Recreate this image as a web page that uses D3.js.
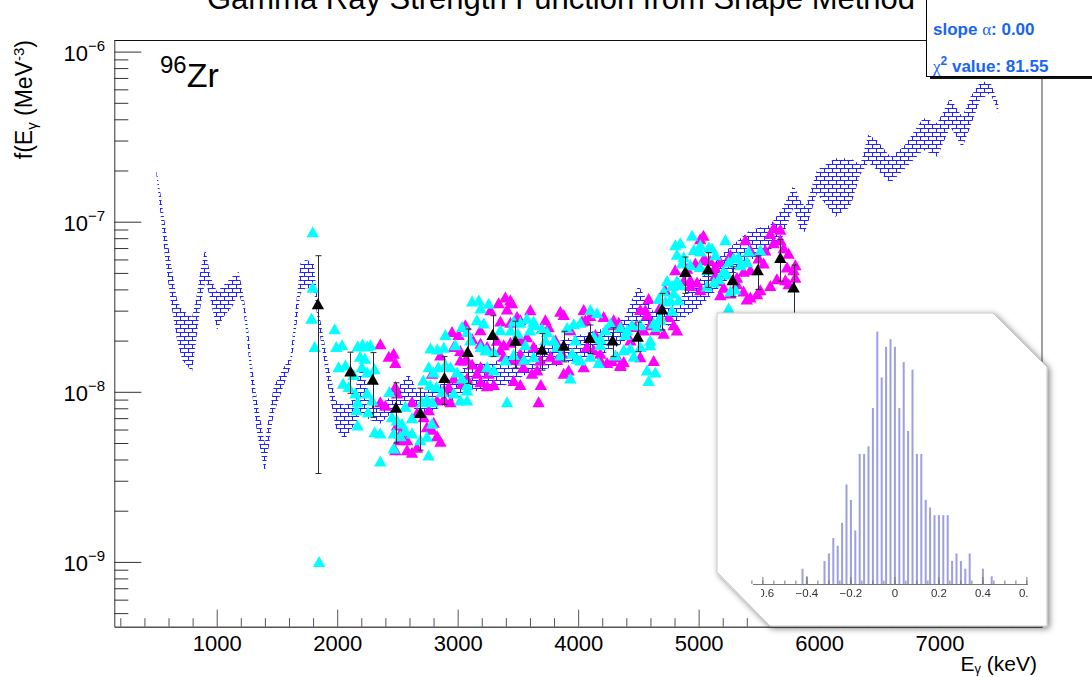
<!DOCTYPE html>
<html>
<head>
<meta charset="utf-8">
<script src="https://cdn.jsdelivr.net/npm/d3@7"></script>
<style>
  html, body { margin: 0; padding: 0; background: #fff; }
  svg { display: block; font-family: "Liberation Sans", Arial, Helvetica, sans-serif; }
</style>
</head>
<body>
<svg id="chart" width="1092" height="677"></svg>
<script>
// ---------------- data ----------------
const xDomain = [150, 7850];            // E_gamma (keV)
const yDomain = [4.16e-10, 1.17e-6];    // f(E_gamma) (MeV^-3)
const xMajorTicks = [1000, 2000, 3000, 4000, 5000, 6000, 7000];
const xTickLabels = ["1000", "2000", "3000", "4000", "5000", "6000", "7000"];
const yDecades = [-9, -8, -7, -6];
const yTickLabels = ["\u22129", "\u22128", "\u22127", "\u22126"];

// uncertainty band from the shape method (upper / lower edge)
const bandE  = [500, 533, 574, 616, 671, 713, 796, 837, 865, 906,
                948, 1003, 1058, 1128, 1183, 1219, 1252, 1294, 1335, 1399,
                1432, 1473, 1542, 1612, 1639, 1695, 1736, 1805, 1846, 1880,
                1930, 1990, 2060, 2130, 2200, 2275, 2358, 2441, 2594, 2663,
                2760, 2880, 3000, 3100, 3250, 3400, 3600, 3800, 4000, 4200,
                4380, 4500, 4620, 4800, 5000, 5200, 5429, 5595, 5700, 5788,
                5844, 5885, 5982, 6134, 6259, 6342, 6408, 6483, 6591, 6699,
                6865, 6981, 7089, 7188, 7255, 7338, 7421, 7487];
const bandHi = [2.03e-7, 1.47e-7, 9.35e-8, 5.96e-8, 3.46e-8, 3.03e-8, 2.76e-8, 3.79e-8, 5.2e-8, 6.97e-8,
                4.75e-8, 3.87e-8, 4.24e-8, 4.75e-8, 5.08e-8, 3.79e-8, 2.64e-8, 1.40e-8, 8.93e-9, 4.97e-9,
                7.13e-9, 1.07e-8, 1.34e-8, 1.61e-8, 2.41e-8, 5.69e-8, 5.96e-8, 5.82e-8, 3.0e-8, 2.2e-8,
                1.4e-8, 8.9e-9, 8.4e-9, 9.0e-9, 1.45e-8, 9.4e-9, 8.2e-9, 9.4e-9, 1.28e-8, 1.02e-8,
                1.05e-8, 1.12e-8, 1.3e-8, 1.48e-8, 1.45e-8, 1.6e-8, 1.85e-8, 1.95e-8, 2.15e-8, 2.35e-8,
                2.7e-8, 4.24e-8, 3.0e-8, 3.3e-8, 4.5e-8, 6.5e-8, 8.93e-8, 9.57e-8, 1.22e-7, 1.64e-7,
                1.34e-7, 1.22e-7, 2.01e-7, 2.36e-7, 2.36e-7, 2.16e-7, 3.24e-7, 3.0e-7, 2.41e-7, 2.75e-7,
                4.07e-7, 3.81e-7, 5.35e-7, 4.13e-7, 5.4e-7, 6.64e-7, 6.64e-7, 4.99e-7];
const bandLo = [1.88e-7, 1.12e-7, 5.96e-8, 3.46e-8, 2.01e-8, 1.54e-8, 1.31e-8, 2.20e-8, 3.16e-8, 4.54e-8,
                3.46e-8, 2.31e-8, 2.76e-8, 3.16e-8, 3.79e-8, 3.16e-8, 2.01e-8, 9.79e-9, 5.69e-9, 3.38e-9,
                4.75e-9, 7.46e-9, 1.02e-8, 1.40e-8, 1.84e-8, 3.79e-8, 4.06e-8, 4.06e-8, 2.4e-8, 1.7e-8,
                1.0e-8, 6.0e-9, 5.2e-9, 6.2e-9, 7.5e-9, 6.8e-9, 6.5e-9, 7.4e-9, 8.9e-9, 7.5e-9,
                7.6e-9, 8.2e-9, 9.2e-9, 1.0e-8, 1.02e-8, 1.1e-8, 1.3e-8, 1.4e-8, 1.55e-8, 1.65e-8,
                1.95e-8, 2.64e-8, 2.3e-8, 2.5e-8, 3.1e-8, 4.3e-8, 5.96e-8, 6.83e-8, 8.2e-8, 1.22e-7,
                8.73e-8, 8.73e-8, 1.47e-7, 1.07e-7, 1.22e-7, 1.9e-7, 2.21e-7, 2.01e-7, 1.69e-7, 2.01e-7,
                2.64e-7, 2.41e-7, 3.61e-7, 2.72e-7, 3.61e-7, 5.2e-7, 5.72e-7, 4.35e-7];

// individual strength-function points, [E keV, f]
const cyanPoints = [
  [1797, 8.7e-8], [1797, 4.1e-8], [1786, 2.7e-8], [1813, 1.84e-8], [1850, 1.0e-9],
  [1979, 2.34e-8], [1993, 1.84e-8], [2040, 1.88e-8], [2012, 1.40e-8], [2068, 1.43e-8],
  [2049, 1.12e-8], [2096, 1.07e-8], [2151, 9.8e-9], [2170, 8.7e-9], [2160, 7.8e-9],
  [2170, 6.35e-9], [2170, 1.85e-8], [2210, 1.9e-8], [2250, 1.85e-8], [2275, 1.88e-8],
  [2190, 1.61e-8], [2230, 1.57e-8], [2205, 1.40e-8], [2250, 1.30e-8], [2310, 1.36e-8],
  [2137, 1.26e-8], [2248, 9.8e-9], [2290, 8.9e-9], [2256, 7.6e-9], [2311, 5.8e-9],
  [2358, 5.7e-9], [2358, 3.9e-9], [2433, 1.0e-8], [2455, 7.1e-9], [2496, 6.8e-9],
  [2538, 6.5e-9], [2470, 5.7e-9], [2525, 5.5e-9], [2566, 5.9e-9], [2469, 4.65e-9],
  [2566, 8.2e-9], [2621, 7.0e-9], [2621, 5.7e-9], [2690, 5.2e-9], [2745, 5.45e-9],
  [2759, 4.23e-9], [2705, 8.7e-9], [2745, 9.0e-9], [2790, 8.7e-9], [2775, 1.8e-8],
  [2830, 1.78e-8], [2885, 1.82e-8], [2760, 1.4e-8], [2800, 1.3e-8], [2840, 1.4e-8],
  [2715, 1.17e-8], [2770, 1.1e-8], [2825, 1.07e-8], [2870, 1.0e-8], [2787, 6.5e-9],
  [2940, 1.4e-8], [2995, 1.3e-8], [3036, 1.2e-8], [3078, 1.1e-8], [2967, 9.8e-9],
  [3022, 8.9e-9], [3078, 1.02e-8], [3078, 8.9e-9], [3036, 2.41e-8], [3078, 2.25e-8],
  [3120, 3.4e-8], [3175, 3.45e-8], [3190, 3.1e-8], [3257, 3.3e-8], [3160, 2.64e-8],
  [3216, 2.53e-8], [3190, 1.84e-8], [3244, 1.76e-8], [3300, 1.72e-8], [3244, 1.4e-8],
  [3300, 1.34e-8], [3410, 8.7e-9], [3465, 2.6e-8], [3520, 2.55e-8], [3575, 2.7e-8],
  [3630, 2.6e-8], [3440, 2.3e-8], [3500, 2.2e-8], [3600, 2.3e-8], [3465, 1.65e-8],
  [3550, 1.55e-8], [3630, 1.6e-8], [3700, 2.35e-8], [3742, 2.25e-8], [3797, 2.0e-8],
  [3825, 1.84e-8], [3908, 2.38e-8], [3963, 2.5e-8], [4018, 2.55e-8], [3950, 1.68e-8],
  [3991, 1.57e-8], [3935, 1.2e-8], [4101, 3.03e-8], [4157, 2.9e-8], [4129, 2.11e-8],
  [4184, 2.05e-8], [4101, 1.61e-8], [4170, 1.48e-8], [4226, 2.31e-8], [4267, 2.53e-8],
  [4350, 2.4e-8], [4406, 2.3e-8], [4447, 2.47e-8], [4378, 1.76e-8], [4433, 1.8e-8],
  [4461, 1.61e-8], [4572, 1.34e-8], [4641, 1.3e-8], [4585, 1.16e-8], [4516, 1.84e-8],
  [4598, 2.0e-8], [4627, 2.53e-8], [4655, 2.41e-8], [4682, 2.76e-8], [4668, 3.52e-8],
  [4710, 3.9e-8], [4738, 4.5e-8], [4779, 4.2e-8], [4820, 4.5e-8], [4724, 3.4e-8],
  [4779, 3.0e-8], [4793, 3.8e-8], [4834, 3.46e-8], [4807, 7.3e-8], [4848, 7.5e-8],
  [4820, 6.4e-8], [4876, 6.2e-8], [4862, 5.7e-8], [4945, 8.3e-8], [4960, 6.83e-8],
  [5013, 6.7e-8], [5013, 5.43e-8], [5070, 5.2e-8], [5085, 7.1e-8], [5112, 6.97e-8],
  [5070, 4.17e-8], [5126, 4.4e-8], [5166, 4.6e-8], [5204, 5.1e-8], [5235, 4.9e-8],
  [5249, 5.8e-8], [5290, 6.1e-8], [5330, 6.2e-8], [5263, 3.9e-8], [5304, 4.0e-8],
  [5249, 3.1e-8], [5415, 6.7e-8], [5402, 5.8e-8],
  [2898, 2.16e-8], [2981, 1.88e-8], [3105, 2.01e-8], [3230, 1.76e-8], [3354, 2.31e-8],
  [3396, 1.53e-8], [3562, 1.88e-8], [3645, 2.47e-8], [3728, 2.01e-8], [3853, 1.64e-8],
  [3977, 2.01e-8], [4018, 1.53e-8], [4184, 1.88e-8], [4309, 1.64e-8], [4392, 2.16e-8],
  [4516, 2.47e-8], [4598, 1.88e-8], [4682, 2.64e-8], [4765, 3.46e-8], [4848, 4.24e-8],
  [4931, 5.56e-8], [5014, 7.3e-8], [5139, 6.37e-8], [5222, 7.8e-8], [5347, 5.56e-8],
  [5512, 6.8e-8], [2898, 1.44e-8]
];
const magentaPoints = [
  [2358, 1.91e-8], [2428, 1.61e-8], [2469, 1.68e-8], [2483, 1.48e-8], [2358, 8.7e-9],
  [2400, 8.3e-9], [2483, 1.07e-8], [2497, 9.8e-9], [2497, 6.35e-9], [2525, 5.7e-9],
  [2511, 5.2e-9], [2483, 4.54e-9], [2580, 4.54e-9], [2621, 4.4e-9], [2663, 4.7e-9],
  [2580, 5.2e-9], [2621, 8.7e-9], [2663, 7.5e-9], [2718, 7.1e-9], [2760, 7.8e-9],
  [2745, 6.2e-9], [2787, 6.0e-9], [2801, 6.6e-9], [2829, 5.5e-9], [2857, 5.1e-9],
  [2787, 1.28e-8], [2829, 8.9e-9], [2885, 9.1e-9], [2940, 8.7e-9], [2885, 1.02e-8],
  [2926, 1.07e-8], [2953, 2.25e-8], [3008, 2.16e-8], [2967, 1.84e-8], [3022, 1.74e-8],
  [3063, 1.53e-8], [3078, 1.54e-8], [3120, 1.45e-8], [3190, 1.4e-8], [3257, 1.28e-8],
  [2967, 1.2e-8], [3036, 1.12e-8], [3078, 1.2e-8], [3160, 1.28e-8], [3190, 1.14e-8],
  [3244, 1.08e-8], [3300, 1.1e-8], [3120, 2.05e-8], [3190, 1.92e-8], [3244, 1.84e-8],
  [3340, 3.33e-8], [3395, 3.6e-8], [3450, 3.33e-8], [3410, 3.05e-8], [3355, 2.6e-8],
  [3438, 2.55e-8], [3493, 2.76e-8], [3327, 2.0e-8], [3382, 1.88e-8], [3438, 1.95e-8],
  [3382, 1.61e-8], [3465, 1.55e-8], [3520, 1.68e-8], [3520, 2.0e-8], [3575, 2.1e-8],
  [3630, 1.84e-8], [3545, 1.4e-8], [3617, 1.28e-8], [3660, 1.34e-8], [3465, 1.16e-8],
  [3520, 1.1e-8], [3672, 8.7e-9], [3690, 1.1e-8], [3700, 2.35e-8], [3755, 2.4e-8],
  [3770, 1.61e-8], [3825, 1.55e-8], [3866, 1.68e-8], [3880, 1.28e-8], [3921, 1.34e-8],
  [3852, 2.96e-8], [3880, 2.84e-8], [4046, 3.03e-8], [4101, 2.8e-8], [4032, 2.6e-8],
  [4073, 1.84e-8], [4129, 1.76e-8], [4046, 1.4e-8], [4184, 1.68e-8], [4240, 1.48e-8],
  [4281, 1.52e-8], [4212, 2.76e-8], [4295, 2.64e-8], [4337, 2.55e-8], [4323, 1.6e-8],
  [4378, 1.5e-8], [4350, 1.42e-8], [4516, 3.03e-8], [4572, 2.84e-8], [4585, 3.52e-8],
  [4475, 2.41e-8], [4544, 2.3e-8], [4600, 2.47e-8], [4516, 1.6e-8], [4627, 1.52e-8],
  [4682, 3.16e-8], [4751, 2.76e-8], [4793, 2.47e-8], [4710, 2.2e-8], [4820, 2.3e-8],
  [4876, 4.5e-8], [4931, 4.2e-8], [4987, 4.4e-8], [4904, 5.3e-8], [5040, 8.3e-8],
  [5013, 7.9e-8], [4973, 5.7e-8], [5040, 6.0e-8], [5096, 5.9e-8], [5138, 5.4e-8],
  [5180, 5.8e-8], [5152, 4.5e-8], [5208, 4.1e-8], [5263, 3.8e-8], [5318, 4.3e-8],
  [5373, 3.9e-8], [5430, 3.6e-8], [5485, 3.75e-8], [5429, 6.8e-8], [5498, 6.1e-8],
  [5540, 5.7e-8], [5595, 8.5e-8], [5623, 9.2e-8], [5678, 9.0e-8], [5623, 7.5e-8],
  [5706, 7.0e-8], [5747, 6.5e-8], [5733, 5.4e-8], [5788, 5.2e-8], [5802, 4.7e-8],
  [5747, 4.3e-8], [5650, 4.6e-8], [5595, 4.2e-8], [5318, 4.7e-8], [5373, 5.1e-8],
  [5180, 3.7e-8], [5400, 3.5e-8],
  [3064, 2.47e-8], [3189, 2.31e-8], [3272, 3.02e-8], [3437, 3.46e-8], [3520, 2.64e-8],
  [3603, 3.02e-8], [3728, 2.64e-8], [3811, 2.01e-8], [3935, 2.31e-8], [4060, 2.64e-8],
  [4143, 2.16e-8], [4268, 2.47e-8], [4434, 2.01e-8], [4557, 3.02e-8], [4640, 2.31e-8],
  [4723, 3.96e-8], [4806, 5.2e-8], [4931, 4.54e-8], [5056, 5.96e-8], [5139, 4.86e-8],
  [5263, 6.37e-8], [5388, 7.8e-8], [5429, 5.2e-8], [5553, 6.8e-8], [5678, 7.8e-8],
  [5803, 5.56e-8], [5720, 4.54e-8], [5512, 3.96e-8], [5014, 3.96e-8], [2856, 1.64e-8],
  [3022, 1.53e-8], [3354, 1.76e-8], [3520, 1.53e-8], [3686, 1.53e-8], [4184, 1.53e-8],
  [4351, 1.44e-8]
];

// averaged points with their error bars
const avgE  = [1840, 2110, 2295, 2488, 2690, 2890, 3083, 3290, 3479, 3700, 3880,
               4095, 4286, 4494, 4696, 4890, 5078, 5282, 5490, 5678, 5788];
const avgF  = [3.28e-8, 1.32e-8, 1.18e-8, 8.09e-9, 7.52e-9, 1.21e-8, 1.72e-8, 2.16e-8, 2.0e-8, 1.77e-8, 1.87e-8,
               2.08e-8, 2.01e-8, 2.11e-8, 3.05e-8, 5.08e-8, 5.27e-8, 4.54e-8, 5.2e-8, 6.14e-8, 4.11e-8];
const avgHi = [6.31e-8, 1.71e-8, 1.70e-8, 1.13e-8, 1.05e-8, 1.61e-8, 2.34e-8, 2.8e-8, 2.6e-8, 2.2e-8, 2.27e-8,
               2.47e-8, 2.38e-8, 2.57e-8, 3.79e-8, 6.2e-8, 6.58e-8, 5.43e-8, 6.3e-8, 7.87e-8, 5.56e-8];
const avgLo = [3.31e-9, 9.8e-9, 7.08e-9, 5.0e-9, 4.54e-9, 8.44e-9, 1.12e-8, 1.61e-8, 1.38e-8, 1.34e-8, 1.5e-8,
               1.68e-8, 1.61e-8, 1.72e-8, 2.31e-8, 3.79e-8, 4.11e-8, 3.62e-8, 4.0e-8, 4.47e-8, 1.5e-8];

// slope distribution (inset histogram)
const histDomain = [-0.645, 0.605];
const histBins   = [-0.42, -0.40, -0.32, -0.30, -0.28, -0.26, -0.24, -0.22, -0.20, -0.18,
                    -0.16, -0.14, -0.12, -0.10, -0.08, -0.06, -0.04, -0.02, 0.00, 0.02,
                    0.04, 0.06, 0.08, 0.10, 0.12, 0.14, 0.16, 0.18, 0.20, 0.22,
                    0.24, 0.26, 0.28, 0.30, 0.32, 0.34, 0.40, 0.44];
const histCounts = [2, 1, 3, 4, 6, 5, 8, 13, 11, 7,
                    17, 17, 18, 23, 33, 27, 31, 32, 31, 23,
                    29, 20, 28, 17, 17, 11, 10, 9, 9, 9,
                    9, 3, 4, 3, 2, 4, 2, 1];
const histTicks  = [-0.6, -0.4, -0.2, 0, 0.2, 0.4, 0.6];
const histTickLabels = ["\u22120.6", "\u22120.4", "\u22120.2", "0", "0.2", "0.4", "0.6"];

const titleText = "Gamma Ray Strength Function from Shape Method";
const slopeText = ": 0.00";
const chi2Text = " value: 81.55";

// ---------------- layout ----------------
const svg = d3.select("#chart");
const frame = { left: 114.3, right: 1042, top: 40, bottom: 626.7 };
const fontMain = '"Liberation Sans", Arial, Helvetica, sans-serif';

const x = d3.scaleLinear().domain(xDomain).range([frame.left, frame.right]);
const y = d3.scaleLog().domain(yDomain).range([frame.bottom, frame.top]);

const defs = svg.append("defs");

// brick hatch used for the band
const pat = defs.append("pattern")
  .attr("id", "bricks").attr("patternUnits", "userSpaceOnUse")
  .attr("width", 8).attr("height", 8);
pat.append("path")
  .attr("d", "M0,0.5H8M0,4.5H8M0.5,0.5V4.5M4.5,4.5V8")
  .attr("stroke", "#2323ff").attr("stroke-width", 1).attr("fill", "none")
  .attr("shape-rendering", "crispEdges");

const shadow = defs.append("filter").attr("id", "panelShadow")
  .attr("x", "-10%").attr("y", "-10%").attr("width", "125%").attr("height", "125%");
shadow.append("feDropShadow").attr("dx", 2).attr("dy", 2)
  .attr("stdDeviation", 3).attr("flood-color", "#000").attr("flood-opacity", 0.5);

const soft = defs.append("filter").attr("id", "soft");
soft.append("feGaussianBlur").attr("stdDeviation", 0.35);

// ---------------- title ----------------
svg.append("text")
  .attr("x", 561).attr("y", 9)
  .attr("text-anchor", "middle").attr("font-size", 31).attr("fill", "#000")
  .text(titleText);

// ---------------- frame ----------------
svg.append("line").attr("x1", frame.left).attr("x2", frame.right)
  .attr("y1", frame.top + 0.5).attr("y2", frame.top + 0.5)
  .attr("stroke", "#111").attr("stroke-width", 1);
svg.append("line").attr("x1", frame.right).attr("x2", frame.right)
  .attr("y1", frame.top).attr("y2", frame.bottom)
  .attr("stroke", "#8a8a8a").attr("stroke-width", 1.6);

// ---------------- band ----------------
const bandData = bandE.map((e, i) => ({ e, hi: bandHi[i], lo: bandLo[i] }));
const area = d3.area().x(d => x(d.e)).y0(d => y(d.lo)).y1(d => y(d.hi));
svg.append("path").datum(bandData)
  .attr("d", area).attr("fill", "url(#bricks)").attr("stroke", "none");

// ---------------- markers ----------------
const tri = "M0,-5.8L6.2,5.2L-6.2,5.2Z";
const pointsLayer = svg.append("g");
pointsLayer.selectAll("path.mag").data(magentaPoints).join("path")
  .attr("class", "mag").attr("d", tri)
  .attr("transform", d => `translate(${x(d[0])},${y(d[1])})`)
  .attr("fill", "#ff00ff");
pointsLayer.selectAll("path.cyan").data(cyanPoints).join("path")
  .attr("class", "cyan").attr("d", tri)
  .attr("transform", d => `translate(${x(d[0])},${y(d[1])})`)
  .attr("fill", "#00ffff");

const avgData = avgE.map((e, i) => ({ e, f: avgF[i], hi: avgHi[i], lo: avgLo[i] }));
const errG = svg.append("g").attr("stroke", "#2a2a2a").attr("stroke-width", 1);
avgData.forEach(d => {
  const cx = Math.round(x(d.e)) + 0.5;
  errG.append("line").attr("x1", cx).attr("x2", cx).attr("y1", y(d.hi)).attr("y2", y(d.lo));
  errG.append("line").attr("x1", cx - 3).attr("x2", cx + 3).attr("y1", y(d.hi)).attr("y2", y(d.hi));
  errG.append("line").attr("x1", cx - 3).attr("x2", cx + 3).attr("y1", y(d.lo)).attr("y2", y(d.lo));
});
svg.append("g").selectAll("path").data(avgData).join("path")
  .attr("d", tri)
  .attr("transform", d => `translate(${x(d.e)},${y(d.f)})`)
  .attr("fill", "#000");

// ---------------- axes ----------------
// x axis: major ticks with labels, minor ticks every 200 keV
const xMinor = d3.range(200, 7850, 200).filter(v => v % 1000 !== 0);
const xAxisG = svg.append("g").attr("transform", `translate(0,${frame.bottom})`)
  .call(d3.axisBottom(x).tickValues(xMajorTicks)
    .tickFormat((d, i) => xTickLabels[i])
    .tickSizeInner(-17).tickSizeOuter(0).tickPadding(8.4));
xAxisG.attr("font-size", 22).attr("font-family", fontMain).style("color", "#555");
xAxisG.selectAll("text").attr("fill", "#000");
xAxisG.select(".domain").attr("stroke-width", 1.6);
const xMinorG = svg.append("g").attr("transform", `translate(0,${frame.bottom})`)
  .call(d3.axisBottom(x).tickValues(xMinor).tickFormat("").tickSizeInner(-8.5).tickSizeOuter(0));
xMinorG.style("color", "#555");
xMinorG.select(".domain").remove();

// y axis: decades plus 2..9 minor ticks
const yMajor = yDecades.map(k => Math.pow(10, k));
const yMinor = [];
for (let k = -10; k <= -6; k++) {
  for (let m = 2; m <= 9; m++) {
    const v = m * Math.pow(10, k);
    if (v >= yDomain[0] && v <= yDomain[1]) yMinor.push(v);
  }
}
const yAxisG = svg.append("g").attr("transform", `translate(${frame.left},0)`)
  .call(d3.axisLeft(y).tickValues(yMajor).tickFormat("").tickSizeInner(-27).tickSizeOuter(0));
yAxisG.style("color", "#333");
const yMinorG = svg.append("g").attr("transform", `translate(${frame.left},0)`)
  .call(d3.axisLeft(y).tickValues(yMinor).tickFormat("").tickSizeInner(-14).tickSizeOuter(0));
yMinorG.style("color", "#333");
yMinorG.select(".domain").remove();

// decade labels 10^k
yMajor.forEach((v, i) => {
  const t = svg.append("text")
    .attr("x", 105).attr("y", y(v) + 9.5)
    .attr("text-anchor", "end").attr("fill", "#000");
  t.append("tspan").attr("font-size", 22).text("10");
  t.append("tspan").attr("font-size", 15).attr("dy", -10).text(yTickLabels[i]);
});

// axis titles
const yTitle = svg.append("text")
  .attr("transform", "translate(32,40) rotate(-90)")
  .attr("text-anchor", "end").attr("font-size", 23).attr("fill", "#000");
yTitle.append("tspan").text("f(E");
yTitle.append("tspan").attr("font-size", 15).attr("dy", 5).text("\u03b3");
yTitle.append("tspan").attr("dy", -5).text(" (MeV");
yTitle.append("tspan").attr("font-size", 15).attr("dy", -8).text("-3");
yTitle.append("tspan").attr("dy", 8).text(")");

const xTitle = svg.append("text")
  .attr("x", 1037).attr("y", 671)
  .attr("text-anchor", "end").attr("font-size", 21).attr("fill", "#000");
xTitle.append("tspan").text("E");
xTitle.append("tspan").attr("font-size", 13).attr("dy", 2).text("\u03b3");
xTitle.append("tspan").attr("dy", -2).text(" (keV)");

// nucleus label
const nuc = svg.append("text").attr("x", 160).attr("y", 86.7).attr("fill", "#000");
nuc.append("tspan").attr("font-size", 24).attr("dy", -13.4).text("96");
nuc.append("tspan").attr("font-size", 34).attr("dy", 13.4).text("Zr");

// ---------------- inset: slope distribution ----------------
const inset = svg.append("g");
const panel = [[717, 313], [993, 313], [1047, 367], [1047, 626], [770, 626], [717, 572]];
inset.append("path")
  .attr("d", "M" + panel.map(p => p.join(",")).join("L") + "Z")
  .attr("fill", "#fff").attr("stroke", "#c8c8c8").attr("stroke-width", 1)
  .attr("filter", "url(#panelShadow)");

const hx = d3.scaleLinear().domain(histDomain).range([753, 1028]);
const hy = d3.scaleLinear().domain([0, 33]).range([584, 331.5]);

defs.append("clipPath").attr("id", "histClip")
  .append("rect").attr("x", 761).attr("y", 320).attr("width", 268).attr("height", 290);

const hist = inset.append("g").attr("clip-path", "url(#histClip)").attr("filter", "url(#soft)");
hist.selectAll("rect").data(histBins).join("rect")
  .attr("x", (d) => hx(d) - 1).attr("width", 2)
  .attr("y", (d, i) => hy(histCounts[i]))
  .attr("height", (d, i) => hy(0) - hy(histCounts[i]))
  .attr("fill", "#9e9ee0");

const hAxis = inset.append("g").attr("stroke", "#777").attr("stroke-width", 1).attr("filter", "url(#soft)");
hAxis.append("line").attr("x1", hx(histDomain[0])).attr("x2", hx(histDomain[1]))
  .attr("y1", hy(0) + 0.5).attr("y2", hy(0) + 0.5);
const hMinor = d3.range(-0.65, 0.6001, 0.05).map(v => Math.round(v * 100) / 100);
hAxis.selectAll("line.minor").data(hMinor).join("line").attr("class", "minor")
  .attr("x1", d => hx(d)).attr("x2", d => hx(d))
  .attr("y1", hy(0)).attr("y2", hy(0) - 3.5);
hAxis.selectAll("line.major").data(histTicks).join("line").attr("class", "major")
  .attr("x1", d => hx(d)).attr("x2", d => hx(d))
  .attr("y1", hy(0)).attr("y2", hy(0) - 7);
hist.selectAll("text").data(histTicks).join("text")
  .attr("x", d => hx(d)).attr("y", 596.5)
  .attr("text-anchor", "middle").attr("font-size", 11.5).attr("fill", "#333")
  .text((d, i) => histTickLabels[i]);

// ---------------- fit result box ----------------
const box = svg.append("g");
box.append("rect").attr("x", 930).attr("y", 76).attr("width", 170).attr("height", 3).attr("fill", "#111");
box.append("rect").attr("x", 926.5).attr("y", -5).attr("width", 180).attr("height", 81.5)
  .attr("fill", "#fff").attr("stroke", "#000").attr("stroke-width", 1);
const blue = "#1765f5";
const t1 = box.append("text").attr("x", 933).attr("y", 35)
  .attr("font-size", 17).attr("font-weight", "bold").attr("fill", blue);
t1.append("tspan").text("slope ");
t1.append("tspan").attr("font-family", '"Liberation Serif", serif').attr("font-weight", "normal").text("\u03b1");
t1.append("tspan").text(slopeText);
const t2 = box.append("text").attr("x", 933).attr("y", 71.7)
  .attr("font-size", 17).attr("font-weight", "bold").attr("fill", blue);
t2.append("tspan").attr("font-family", '"Liberation Serif", serif').attr("font-weight", "normal").text("\u03c7");
t2.append("tspan").attr("font-size", 12).attr("dy", -7).text("2");
t2.append("tspan").attr("dy", 7).text(chi2Text);
</script>
</body>
</html>
